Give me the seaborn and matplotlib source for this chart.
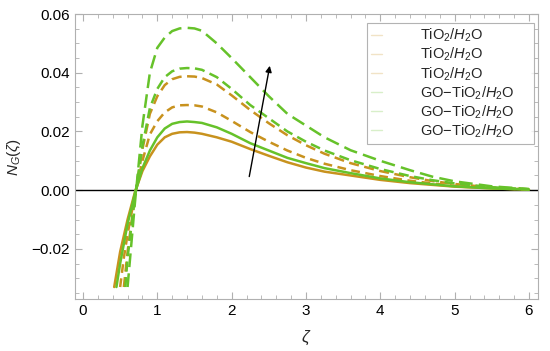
import numpy as np
import pandas as pd
import matplotlib.pyplot as plt
import seaborn as sns
from matplotlib.ticker import MultipleLocator
from matplotlib.lines import Line2D

# valores (malla comun desde 0.6)
zeta = [0.6, 0.7, 0.8, 0.9, 1.0, 1.1, 1.2, 1.3, 1.4, 1.5, 1.6, 1.8,
        2.0, 2.25, 2.5, 2.75, 3.0, 3.25, 3.6, 4.0, 4.4, 4.7, 5.0, 5.5, 6.0]

# tramo inicial de cada curva (donde entra por abajo)
ini_x = {'tio2_1': [0.42, 0.5], 'tio2_2': [0.50, 0.55], 'tio2_3': [0.55],
         'go_1': [0.45, 0.5], 'go_2': [0.57], 'go_3': []}
ini_y = {'tio2_1': [-0.033, -0.021], 'tio2_2': [-0.033, -0.023], 'tio2_3': [-0.033],
         'go_1': [-0.033, -0.025], 'go_2': [-0.033], 'go_3': []}

tio2_1 = [-0.010, -0.0006, 0.0065, 0.0115, 0.0155, 0.018, 0.0192,
          0.0197, 0.0198, 0.0196, 0.0192, 0.018, 0.0165, 0.0140, 0.0117, 0.0095, 0.0077,
          0.0063, 0.0050, 0.0035, 0.0024, 0.0018, 0.0012, 0.0006, 0.0002]
tio2_2 = [-0.015, -0.0015, 0.010, 0.019, 0.0235, 0.0265, 0.0282,
          0.0289, 0.029, 0.0289, 0.0285, 0.0265, 0.0236, 0.0198, 0.0165, 0.0135, 0.011,
          0.009, 0.0068, 0.0048, 0.0032, 0.0023, 0.0015, 0.0007, 0.0002]
tio2_3 = [-0.021, -0.002, 0.014, 0.026, 0.032, 0.0358, 0.0378,
          0.0386, 0.0388, 0.0387, 0.0382, 0.036, 0.0323, 0.0273, 0.0228, 0.0187, 0.0153,
          0.0124, 0.0092, 0.0065, 0.0044, 0.0031, 0.0021, 0.0009, 0.0003]
go_1 = [-0.0115, -0.001, 0.0075, 0.0135, 0.018, 0.021, 0.0226,
        0.0232, 0.0234, 0.0232, 0.0229, 0.0214, 0.0192, 0.016, 0.0135, 0.011, 0.0092,
        0.0075, 0.0058, 0.004, 0.0027, 0.002, 0.0013, 0.0006, 0.0002]
go_2 = [-0.023, -0.002, 0.015, 0.028, 0.0345, 0.0385, 0.0405,
        0.0414, 0.0416, 0.0415, 0.041, 0.0385, 0.0345, 0.029, 0.0245, 0.020, 0.0165,
        0.0135, 0.0102, 0.0072, 0.0048, 0.0034, 0.0023, 0.001, 0.0003]
go_3 = [-0.033, -0.004, 0.022, 0.040, 0.0485, 0.052, 0.0542,
        0.0551, 0.0553, 0.0551, 0.0543, 0.050, 0.045, 0.0385, 0.032, 0.026, 0.022,
        0.018, 0.0136, 0.0100, 0.0068, 0.0046, 0.003, 0.0013, 0.0004]

etiquetas = [r'TiO$_2$/$H_2$O'] * 3 + [r'GO$-$TiO$_2$/$H_2$O'] * 3

marron = '#c8921e'
verde = '#66c22a'

sns.set_style('ticks')
plt.rcParams['font.family'] = ['Liberation Sans', 'DejaVu Sans']
plt.rcParams['mathtext.fontset'] = 'custom'
plt.rcParams['mathtext.rm'] = 'Liberation Sans'
plt.rcParams['mathtext.it'] = 'Liberation Sans:italic'

fig = plt.figure(figsize=(5.5, 3.51), dpi=100)
ax = fig.add_axes([0.136, 0.148, 0.842, 0.812])

nombres = ['tio2_1', 'tio2_2', 'tio2_3', 'go_1', 'go_2', 'go_3']
series = [tio2_1, tio2_2, tio2_3, go_1, go_2, go_3]
colores = [marron, marron, marron, verde, verde, verde]
estilos = [None, (3.5, 2.2), (4, 2.2), None, (4, 2.2), (5.5, 2.5)]

for nom, vals, col, dash in zip(nombres, series, colores, estilos):
    df = pd.DataFrame({'zeta': ini_x[nom] + zeta, 'N': ini_y[nom] + vals})
    kw = {} if dash is None else {'dashes': dash}
    sns.lineplot(data=df, x='zeta', y='N', color=col, lw=1.8, ax=ax, sort=False, **kw)

ax.axhline(0, color='black', lw=1.0, zorder=1)
ax.annotate('', xy=(2.52, 0.0433), xytext=(2.23, 0.0037),
            arrowprops=dict(arrowstyle='-|>', color='black', lw=1.0, mutation_scale=9))

ax.set_xlim(-0.11, 6.12)
ax.set_ylim(-0.0371, 0.06)
ax.xaxis.set_major_locator(MultipleLocator(1))
ax.xaxis.set_minor_locator(MultipleLocator(0.2))
ax.yaxis.set_major_locator(MultipleLocator(0.02))
ax.yaxis.set_minor_locator(MultipleLocator(0.005))
ax.yaxis.set_major_formatter(plt.FuncFormatter(lambda v, p: f'{v:.2f}'.replace('-', '\u2212')))
ax.tick_params(which='both', direction='in', top=True, right=True, color='#b0b0b0',
               labelsize=11, labelcolor='black')
ax.tick_params(which='major', length=5)
ax.tick_params(which='minor', length=3)
for s in ax.spines.values():
    s.set_color('#b0b0b0')
    s.set_linewidth(0.8)

ax.set_xlabel(r'$\zeta$', fontsize=12, labelpad=8)
ax.set_ylabel(r'$N_G(\zeta)$', fontsize=11, labelpad=6)

handles = [Line2D([], [], color=c, lw=1.0, alpha=0.25) for c in colores]
leg = ax.legend(handles, etiquetas, loc='upper left', bbox_to_anchor=(0.631, 0.968, 0.36, 0.0),
                mode='expand', fontsize=10.5, frameon=True, fancybox=False, handlelength=0.8,
                handletextpad=2.55, borderpad=0.25, labelspacing=0.12, borderaxespad=0.0)
leg.get_frame().set_edgecolor('#a0a0a0')
leg.get_frame().set_linewidth(0.8)

fig.savefig('out.png', dpi=100)
